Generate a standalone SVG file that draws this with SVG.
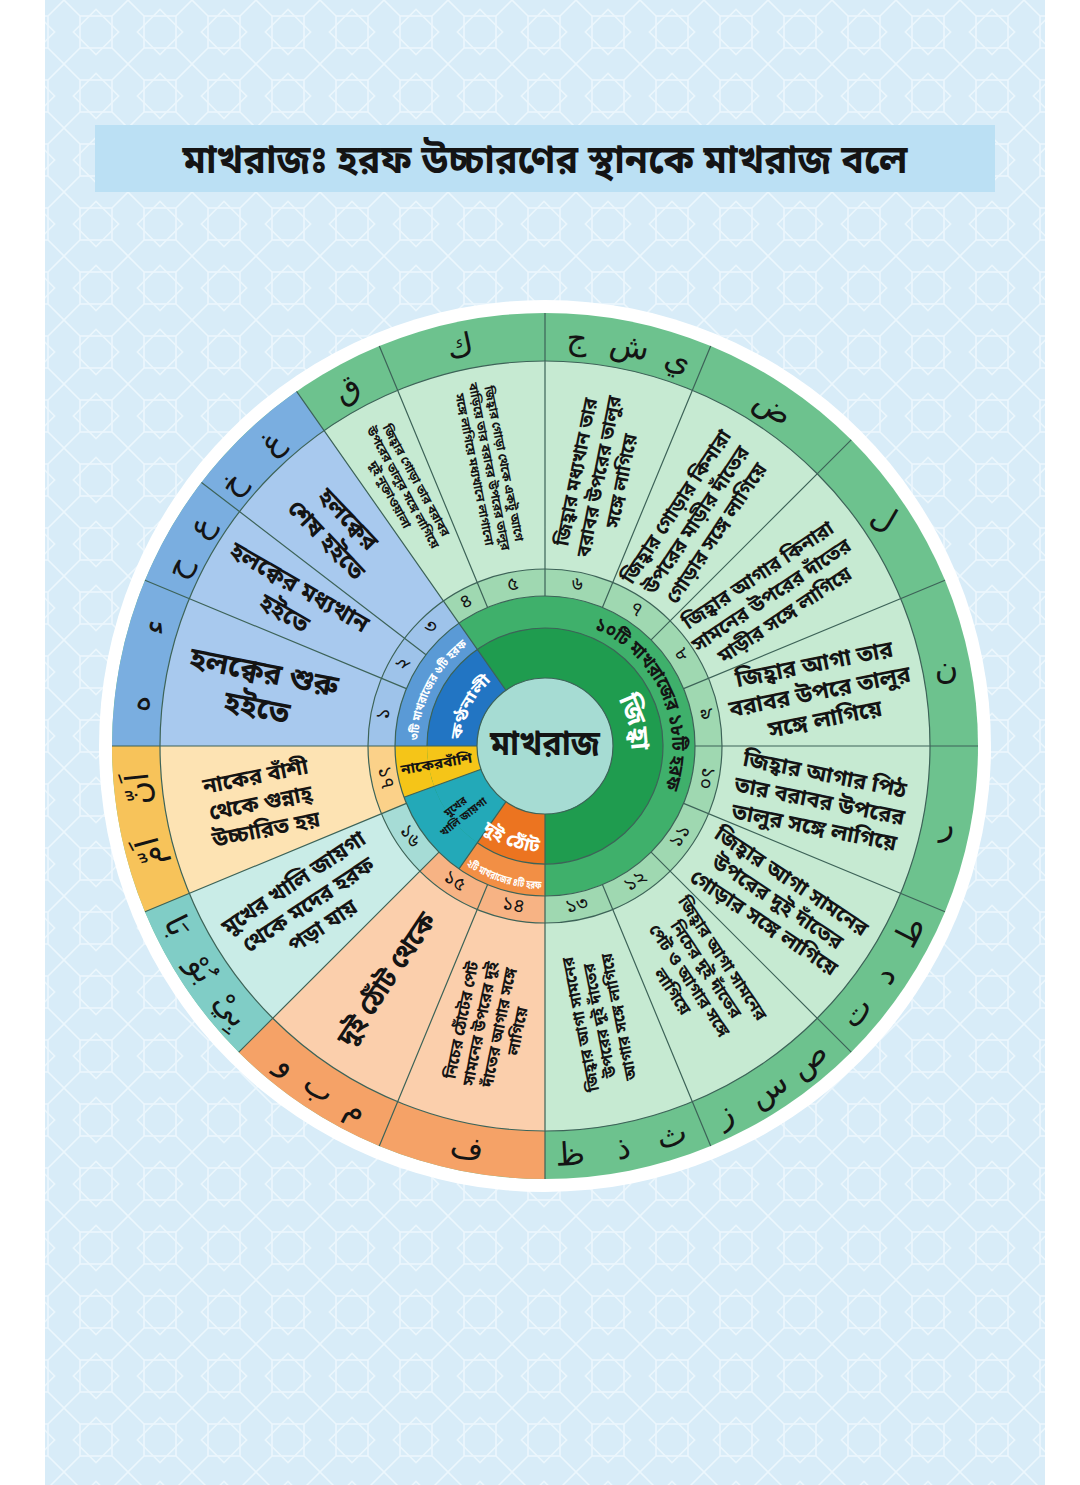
<svg xmlns="http://www.w3.org/2000/svg" width="1080" height="1485" viewBox="0 0 1080 1485">
<defs>
<style>
.bn{font-family:"Noto Sans Bengali","Noto Serif Bengali","Lohit Bengali","Noto Sans","DejaVu Sans",sans-serif;font-weight:700;fill:#141414;text-anchor:middle}
.wt{fill:#ffffff}
.ar{font-family:"DejaVu Sans","Noto Sans",sans-serif;font-size:32px;fill:#141414;text-anchor:middle;dominant-baseline:central}
.num{font-size:19px;font-weight:400;dominant-baseline:central}
.ln{stroke:#3d6358;stroke-width:1.2;fill:none}
</style>
<pattern id="bgpat" width="64" height="64" patternUnits="userSpaceOnUse">
<rect width="64" height="64" fill="#d8ecf8"/>
<g fill="none" stroke="#ecf7fd" stroke-width="1.6">
<rect x="16" y="16" width="32" height="32"/>
<rect x="16" y="16" width="32" height="32" transform="rotate(45 32 32)"/>
<path d="M0 0L16 16M64 0L48 16M0 64L16 48M64 64L48 48"/>
</g>
</pattern>
<path id="pGreen2" d="M536.1,619.3 A127,127 0 0 1 633.2,837.4"/>
<path id="pBlue2" d="M419.9,768.1 A127,127 0 0 1 491.3,630.9"/>
<path id="pOrange2" d="M435.5,837.9 A143,143 0 0 0 582.0,884.1"/>
<path id="pBlue1" d="M462.3,760.6 A84,84 0 0 1 509.5,669.9"/>
<path id="pGreen1" d="M581.3,668.1 A86,86 0 0 1 615.4,795.3"/>
<path id="pOrange1" d="M458.2,806.8 A106,106 0 0 0 572.4,848.4"/>
</defs>

<g id="background">
<rect width="1080" height="1485" fill="#ffffff"/>
<rect x="45" y="0" width="1000" height="1485" fill="url(#bgpat)"/>
</g>

<g id="title">
<rect x="95" y="125" width="900" height="67" fill="#bbe0f4"/>
<text class="bn" x="545" y="173" font-size="40" textLength="725" lengthAdjust="spacingAndGlyphs">মাখরাজঃ হরফ উচ্চারণের স্থানকে মাখরাজ বলে</text>
</g>

<g id="wheel-fills">
<circle cx="545" cy="746" r="446" fill="#ffffff"/>
<circle cx="545" cy="746" r="433" fill="#6dc28e"/>
<path d="M545,746 L112,746 A433,433 0 0 1 296.6,391.3 Z" fill="#7aaee0"/>
<path d="M545,746 L545,1179 A433,433 0 0 1 238.8,1052.2 Z" fill="#f5a267"/>
<path d="M545,746 L238.8,1052.2 A433,433 0 0 1 145.0,911.7 Z" fill="#80cdc6"/>
<path d="M545,746 L145.0,911.7 A433,433 0 0 1 112,746 Z" fill="#f7c35a"/>

<circle cx="545" cy="746" r="385" fill="#c6ead2"/>
<path d="M545,746 L160,746 A385,385 0 0 1 324.2,430.6 Z" fill="#a8c9ee"/>
<path d="M545,746 L545,1131 A385,385 0 0 1 272.8,1018.2 Z" fill="#fbcfac"/>
<path d="M545,746 L272.8,1018.2 A385,385 0 0 1 189.3,893.3 Z" fill="#c9ece7"/>
<path d="M545,746 L189.3,893.3 A385,385 0 0 1 160,746 Z" fill="#fde3b3"/>

<circle cx="545" cy="746" r="177" fill="#9fd8b1"/>
<path d="M545,746 L368,746 A177,177 0 0 1 443.5,601.0 Z" fill="#9ec3ea"/>
<path d="M545,746 L545,923 A177,177 0 0 1 419.8,871.2 Z" fill="#f7b384"/>
<path d="M545,746 L419.8,871.2 A177,177 0 0 1 381.5,813.7 Z" fill="#a6dcd6"/>
<path d="M545,746 L381.5,813.7 A177,177 0 0 1 368,746 Z" fill="#fbd189"/>

<circle cx="545" cy="746" r="150" fill="#3fb06b"/>
<path d="M545,746 L395,746 A150,150 0 0 1 459.0,623.1 Z" fill="#5a9ad6"/>
<path d="M545,746 L545,896 A150,150 0 0 1 459.0,868.9 Z" fill="#f28f45"/>
<path d="M545,746 L459.0,868.9 A150,150 0 0 1 404.0,797.3 Z" fill="#23a9b8"/>
<path d="M545,746 L404.0,797.3 A150,150 0 0 1 395,746 Z" fill="#f5c518"/>

<circle cx="545" cy="746" r="118" fill="#1f9c4f"/>
<path d="M545,746 L427,746 A118,118 0 0 1 477.3,649.3 Z" fill="#2275c3"/>
<path d="M545,746 L545,864 A118,118 0 0 1 477.3,842.7 Z" fill="#ec7420"/>
<path d="M545,746 L477.3,842.7 A118,118 0 0 1 434.1,786.4 Z" fill="#23a9b8"/>
<path d="M545,746 L434.1,786.4 A118,118 0 0 1 427,746 Z" fill="#f5c518"/>
</g>

<g id="connectors">
<circle class="ln" cx="545" cy="746" r="385"/>
<circle class="ln" cx="545" cy="746" r="177"/>
<circle class="ln" cx="545" cy="746" r="150"/>
<path class="ln" d="M477.3,842.7 A118,118 0 1 0 427,746"/>
<path class="ln" d="M406.4,688.6 L145.0,580.3 M426.0,654.7 L201.5,482.4 M487.6,607.4 L379.3,346.0 M545,596 L545,313 M602.4,607.4 L710.7,346.0 M651.1,639.9 L851.2,439.8 M683.6,688.6 L945.0,580.3 M695,746 L978,746 M683.6,803.4 L945.0,911.7 M651.1,852.1 L851.2,1052.2 M602.4,884.6 L710.7,1146.0 M487.6,884.6 L379.3,1146.0 M439.0,852.1 L238.8,1052.2 M406.4,803.4 L145.0,911.7"/>
<path class="ln" d="M506.0,690.3 L296.6,391.3 M545,814 L545,1179 M477,746 L112,746 M506.0,801.7 L459.0,868.9 M481.1,769.3 L404.0,797.3"/>
</g>

<g id="center">
<circle cx="545" cy="746" r="68" fill="#a6dcd3" stroke="#3d6358" stroke-width="1.2"/>
<text class="bn" x="545" y="746" font-size="35" dominant-baseline="central" textLength="110" lengthAdjust="spacingAndGlyphs">মাখরাজ</text>
</g>

<g id="group-throat">
<text class="bn wt" font-size="15"><textPath href="#pBlue1" startOffset="50%" textLength="68" lengthAdjust="spacingAndGlyphs">কণ্ঠনালী</textPath></text>
<text class="bn wt" font-size="12"><textPath href="#pBlue2" startOffset="50%" textLength="110" lengthAdjust="spacingAndGlyphs">৩টি মাখরাজের ৬টি হরফ</textPath></text>
</g>
<g id="group-tongue">
<text class="bn wt" font-size="26"><textPath href="#pGreen1" startOffset="50%">জিহ্বা</textPath></text>
<text class="bn" font-size="19"><textPath href="#pGreen2" startOffset="50%" textLength="192" lengthAdjust="spacingAndGlyphs">১০টি মাখরাজের ১৮টি হরফ</textPath></text>
</g>
<g id="group-lips">
<text class="bn wt" font-size="18"><textPath href="#pOrange1" startOffset="50%" textLength="62" lengthAdjust="spacingAndGlyphs">দুই ঠোঁট</textPath></text>
<text class="bn wt" font-size="11"><textPath href="#pOrange2" startOffset="50%" textLength="80" lengthAdjust="spacingAndGlyphs">২টি মাখরাজের ৪টি হরফ</textPath></text>
</g>
<g id="group-nose">
<text class="bn" font-size="14" transform="translate(436.7,765.1) rotate(-10)" dominant-baseline="central" textLength="72" lengthAdjust="spacingAndGlyphs">নাকেরবাঁশি</text>
</g>
<g id="group-mouth">
<text class="bn" font-size="11" transform="translate(459.3,811.7) rotate(-37.5)"><tspan x="0" dy="-2.65">মুখের</tspan><tspan x="0" dy="13">খালি জায়গা</tspan></text>
</g>

<g id="m1">
<text class="bn" font-size="30" transform="translate(260.6,689.4) rotate(11.25)"><tspan x="0" dy="-7.5">হলক্বের শুরু</tspan><tspan x="0" dy="36">হইতে</tspan></text>
<text class="bn num" transform="translate(384.6,714.1) rotate(-78.75)">১</text>
<text class="ar" transform="translate(138.2,703.2) rotate(-84)">ه</text>
<text class="ar" transform="translate(153.9,626.4) rotate(-73)">ء</text>
</g>
<g id="m2">
<text class="bn" font-size="24" transform="translate(292.1,600) rotate(30)"><tspan x="0" dy="-6.6">হলক্বের মধ্যখান</tspan><tspan x="0" dy="30">হইতে</tspan></text>
<text class="bn num" transform="translate(403.4,664.3) rotate(-60)">২</text>
<text class="ar" transform="translate(177.4,566.7) rotate(-64)">ح</text>
<text class="ar" transform="translate(200.1,526.2) rotate(-57)">ع</text>
</g>
<g id="m3">
<text class="bn" font-size="24" transform="translate(337.5,529.3) rotate(46.25)"><tspan x="0" dy="-6.6">হলক্বের</tspan><tspan x="0" dy="30">শেষ হইতে</tspan></text>
<text class="bn num" transform="translate(431.9,627.9) rotate(-43.75)">৩</text>
<text class="ar" transform="translate(231.7,483.1) rotate(-50)">خ</text>
<text class="ar" transform="translate(271.3,442.1) rotate(-42)">غ</text>
</g>
<g id="m4">
<text class="bn" font-size="12.5" transform="translate(403.1,487.4) rotate(61.25)"><tspan x="0" dy="-10.6">জিহ্বার গোড়া তার বরাবর</tspan><tspan x="0" dy="15">উপরের তালুর সঙ্গে লাগিয়ে</tspan><tspan x="0" dy="15">দুই নুক্তাওয়ালা</tspan></text>
<text class="bn num" transform="translate(466.4,602.7) rotate(-28.75)">৪</text>
<text class="ar" transform="translate(346.7,388.3) rotate(-29)">ق</text>
</g>
<g id="m5">
<text class="bn" font-size="12.5" transform="translate(489.4,466.5) rotate(78.75)"><tspan x="0" dy="-10.6">জিহ্বার গোড়া থেকে একটু আগে</tspan><tspan x="0" dy="15">বাড়িয়ে তার বরাবর উপরের তালুর</tspan><tspan x="0" dy="15">সঙ্গে লাগিয়ে মধ্যখানে লাগানো</tspan></text>
<text class="bn num" transform="translate(513.1,585.6) rotate(-11.25)">৫</text>
<text class="ar" transform="translate(460.0,346.0) rotate(-12)">ك</text>
</g>
<g id="m6">
<text class="bn" font-size="19" transform="translate(598.6,476.3) rotate(-78.75)"><tspan x="0" dy="-16.35">জিহ্বার মধ্যখান তার</tspan><tspan x="0" dy="23">বরাবর উপরের তালুর</tspan><tspan x="0" dy="23">সঙ্গে লাগিয়ে</tspan></text>
<text class="bn num" transform="translate(576.9,585.6) rotate(11.25)">৬</text>
<text class="ar" transform="translate(577.1,338.3) rotate(4)">ج</text>
<text class="ar" transform="translate(630.0,345.9) rotate(12)">ش</text>
<text class="ar" transform="translate(678.2,359.3) rotate(19)">ي</text>
</g>
<g id="m7">
<text class="bn" font-size="20" transform="translate(696.1,519.8) rotate(-56.25)"><tspan x="0" dy="-17">জিহ্বার গোড়ার কিনারা</tspan><tspan x="0" dy="24">উপরের মাড়ীর দাঁতের</tspan><tspan x="0" dy="24">গোড়ার সঙ্গে লাগিয়ে</tspan></text>
<text class="bn num" transform="translate(635.8,610.1) rotate(33.75)">৭</text>
<text class="ar" transform="translate(773.7,406.9) rotate(34)">ض</text>
</g>
<g id="m8">
<text class="bn" font-size="20" transform="translate(771.2,594.9) rotate(-33.75)"><tspan x="0" dy="-17">জিহ্বার আগার কিনারা</tspan><tspan x="0" dy="24">সামনের উপরের দাঁতের</tspan><tspan x="0" dy="24">মাড়ীর সঙ্গে লাগিয়ে</tspan></text>
<text class="bn num" transform="translate(680.9,655.2) rotate(56.25)">৮</text>
<text class="ar" transform="translate(884.1,517.3) rotate(30)">ل</text>
</g>
<g id="m9">
<text class="bn" font-size="23" transform="translate(819.6,691.4) rotate(-11.25)"><tspan x="0" dy="-20">জিহ্বার আগা তার</tspan><tspan x="0" dy="28">বরাবর উপরে তালুর</tspan><tspan x="0" dy="28">সঙ্গে লাগিয়ে</tspan></text>
<text class="bn num" transform="translate(705.4,714.1) rotate(78.75)">৯</text>
<text class="ar" transform="translate(946.5,668.0)">ن</text>
</g>
<g id="m10">
<text class="bn" font-size="22" transform="translate(819.6,800.6) rotate(11.25)"><tspan x="0" dy="-19.3">জিহ্বার আগার পিঠ</tspan><tspan x="0" dy="27">তার বরাবর উপরের</tspan><tspan x="0" dy="27">তালুর সঙ্গে লাগিয়ে</tspan></text>
<text class="bn num" transform="translate(705.4,777.9) rotate(101.25)">১০</text>
<text class="ar" transform="translate(946.5,824.0)">ر</text>
</g>
<g id="m11">
<text class="bn" font-size="21" transform="translate(777.8,901.6) rotate(33.75)"><tspan x="0" dy="-17.65">জিহ্বার আগা সামনের</tspan><tspan x="0" dy="25">উপরের দুই দাঁতের</tspan><tspan x="0" dy="25">গোড়ার সঙ্গে লাগিয়ে</tspan></text>
<text class="bn num" transform="translate(680.9,836.8) rotate(-56.25)">১১</text>
<text class="ar" transform="translate(909.4,931.7) rotate(-63)">ط</text>
<text class="ar" transform="translate(884.1,974.7) rotate(-56)">د</text>
<text class="ar" transform="translate(856.0,1011.6) rotate(-49.5)">ت</text>
</g>
<g id="m12">
<text class="bn" font-size="17" transform="translate(697.8,974.7) rotate(56.25)"><tspan x="0" dy="-24">জিহ্বার আগা সামনের</tspan><tspan x="0" dy="20">নিচের দুই দাঁতের</tspan><tspan x="0" dy="20">পেট ও আগার সঙ্গে</tspan><tspan x="0" dy="20">লাগিয়ে</tspan></text>
<text class="bn num" transform="translate(635.8,881.9) rotate(-33.75)">১২</text>
<text class="ar" transform="translate(807.9,1059.3) rotate(-40)">ص</text>
<text class="ar" transform="translate(767.8,1089.0) rotate(-33)">س</text>
<text class="ar" transform="translate(724.3,1113.6) rotate(-26)">ز</text>
</g>
<g id="m13">
<text class="bn" font-size="16" transform="translate(599.6,1020.6) rotate(-101.25)"><tspan x="0" dy="-14">জিহ্বার আগা সামনের</tspan><tspan x="0" dy="19.5">উপরের দুই দাঁতের</tspan><tspan x="0" dy="19.5">আগার সঙ্গে লাগিয়ে</tspan></text>
<text class="bn num" transform="translate(576.9,906.4) rotate(-11.25)">১৩</text>
<text class="ar" transform="translate(671.4,1135.0) rotate(-18)">ث</text>
<text class="ar" transform="translate(623.0,1147.5) rotate(-11)">ذ</text>
<text class="ar" transform="translate(570.0,1154.2) rotate(-3.5)">ظ</text>
</g>
<g id="m14">
<text class="bn" font-size="16" transform="translate(489.4,1025.5) rotate(-78.75)"><tspan x="0" dy="-22.9">নিচের ঠোঁটের পেট</tspan><tspan x="0" dy="19">সামনের উপরের দুই</tspan><tspan x="0" dy="19">দাঁতের আগার সঙ্গে</tspan><tspan x="0" dy="19">লাগিয়ে</tspan></text>
<text class="bn num" transform="translate(513.1,906.4) rotate(11.25)">১৪</text>
<text class="ar" transform="translate(467.0,1147.5) rotate(11)">ف</text>
</g>
<g id="m15">
<text class="bn" font-size="27" transform="translate(388.3,980.5) rotate(-56.25)" dominant-baseline="central">দুই ঠোঁট থেকে</text>
<text class="bn num" transform="translate(454.2,881.9) rotate(33.75)">১৫</text>
<text class="ar" transform="translate(287.6,1063.9) rotate(39)">و</text>
<text class="ar" transform="translate(319.3,1087.1) rotate(33.5)">ب</text>
<text class="ar" transform="translate(356.1,1108.8) rotate(27.5)">م</text>
</g>
<g id="m16">
<text class="bn" font-size="22" transform="translate(308.0,904.3) rotate(-33.75)"><tspan x="0" dy="-18.3">মুখের খালি জায়গা</tspan><tspan x="0" dy="26">থেকে মদের হরফ</tspan><tspan x="0" dy="26">পড়া যায়</tspan></text>
<text class="bn num" transform="translate(409.1,836.8) rotate(56.25)">১৬</text>
<text class="ar" font-size="26" transform="translate(177.4,925.3) rotate(64)">بَا</text>
<text class="ar" font-size="26" transform="translate(202.0,968.8) rotate(57)">بُوْ</text>
<text class="ar" font-size="26" transform="translate(231.7,1008.9) rotate(50)">بِيْ</text>
</g>
<g id="m17">
<text class="bn" font-size="22" transform="translate(260.6,802.6) rotate(-11.25)"><tspan x="0" dy="-19.3">নাকের বাঁশী</tspan><tspan x="0" dy="27">থেকে গুন্নাহ্</tspan><tspan x="0" dy="27">উচ্চারিত হয়</tspan></text>
<text class="bn num" transform="translate(384.6,777.9) rotate(78.75)">১৭</text>
<text class="ar" font-size="30" transform="translate(138.2,788.8) rotate(-96)">اَنّ</text>
<text class="ar" font-size="30" transform="translate(149.9,851.9) rotate(-105)">اَمّ</text>
</g>
</svg>
